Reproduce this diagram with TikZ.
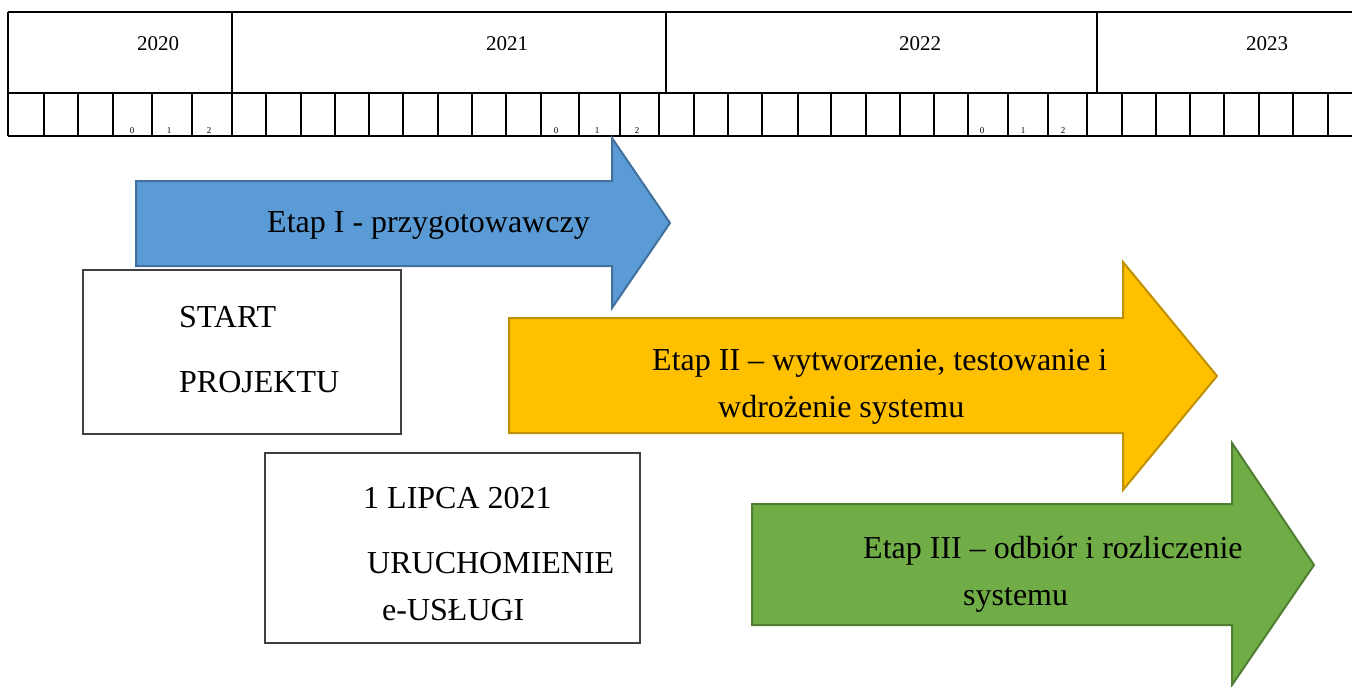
\documentclass[tikz,border=0pt]{standalone}
\usepackage{fontspec}
\setmainfont{Liberation Serif}
\definecolor{bluefill}{HTML}{5B9BD5}
\definecolor{bluedraw}{HTML}{41719C}
\definecolor{yelfill}{HTML}{FFC000}
\definecolor{yeldraw}{HTML}{BF9000}
\definecolor{grnfill}{HTML}{70AD47}
\definecolor{grndraw}{HTML}{507E32}
\definecolor{boxdraw}{HTML}{404040}
\tikzset{
  gridline/.style={line width=2pt, black},
  bigtext/.style={anchor=base west, inner sep=0pt, font=\fontsize{32}{32}\selectfont},
  yeartext/.style={anchor=base, inner sep=0pt, font=\fontsize{21}{21}\selectfont},
  tinytext/.style={anchor=base, inner sep=0pt, font=\fontsize{9}{9}\selectfont},
  infobox/.style={draw=boxdraw, line width=1.3pt, fill=white},
  arrowshape/.style={line width=2pt, line join=miter}
}
\begin{document}
\begin{tikzpicture}[x=1pt,y=-1pt]
\useasboundingbox[fill=white] (0,0) rectangle (1352,686);
% timeline grid
\draw[gridline] (8,12) -- (1352,12);
\draw[gridline] (8,93) -- (1352,93);
\draw[gridline] (8,136) -- (1352,136);
\foreach \xx in {8,232,666,1097} \draw[gridline] (\xx,12) -- (\xx,93);
\foreach \xx in {8,44,78,113,152,192,232,266,301,335,369,403,438,472,506,541,579,620,659,694,728,762,798,831,866,900,934,968,1008,1048,1087,1122,1156,1190,1224,1259,1293,1328}
  \draw[gridline] (\xx,93) -- (\xx,136);
\node[yeartext] (y2020) at (158,50) {2020};
\node[yeartext] (y2021) at (507,50) {2021};
\node[yeartext] (y2022) at (920,50) {2022};
\node[yeartext] (y2023) at (1267,50) {2023};
\node[tinytext] (a0) at (132,133) {0};
\node[tinytext] (a1) at (169,133) {1};
\node[tinytext] (a2) at (209,133) {2};
\node[tinytext] (b0) at (556,133) {0};
\node[tinytext] (b1) at (597,133) {1};
\node[tinytext] (b2) at (637,133) {2};
\node[tinytext] (c0) at (982,133) {0};
\node[tinytext] (c1) at (1023,133) {1};
\node[tinytext] (c2) at (1063,133) {2};
% arrows
\draw[arrowshape, fill=bluefill, draw=bluedraw] (136,181) -- (612,181) -- (612,138) -- (670,223) -- (612,308) -- (612,266) -- (136,266) -- cycle;
\draw[arrowshape, fill=yelfill, draw=yeldraw] (509,318) -- (1123,318) -- (1123,262) -- (1217,376) -- (1123,490) -- (1123,433) -- (509,433) -- cycle;
\draw[arrowshape, fill=grnfill, draw=grndraw] (752,504) -- (1232,504) -- (1232,443) -- (1314,565) -- (1232,685) -- (1232,625) -- (752,625) -- cycle;
% boxes
\draw[infobox] (83,270) rectangle (401,434);
\draw[infobox] (265,453) rectangle (640,643);
% texts
\node[bigtext] (e1) at (267,232) {Etap I - przygotowawczy};
\node[bigtext] (s1) at (179,327) {START};
\node[bigtext] (s2) at (179,392) {PROJEKTU};
\node[bigtext] (e2a) at (652,370) {Etap II – wytworzenie, testowanie i};
\node[bigtext] (e2b) at (718,417) {wdrożenie systemu};
\node[bigtext] (l1) at (363,508) {1 LIPCA 2021};
\node[bigtext] (l2) at (367,573) {URUCHOMIENIE};
\node[bigtext] (l3) at (382,620) {e-USŁUGI};
\node[bigtext] (e3a) at (863,558) {Etap III – odbiór i rozliczenie};
\node[bigtext] (e3b) at (963,605) {systemu};
\end{tikzpicture}
\end{document}
